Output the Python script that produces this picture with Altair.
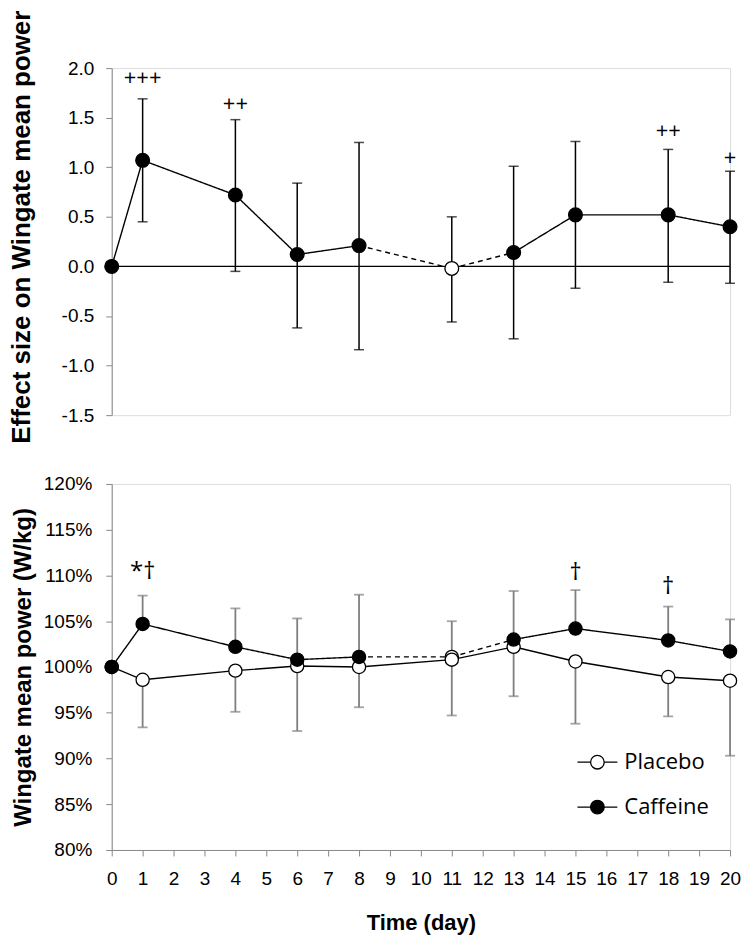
import altair as alt
import pandas as pd

# ---------------- data ----------------
days = [0, 1, 4, 6, 8, 11, 13, 15, 18, 20]
seg_style = ["solid", "solid", "solid", "solid", "dashed", "dashed", "solid", "solid", "solid"]

# top panel: effect size (caffeine vs placebo)
es_mean = [0.00, 1.07, 0.72, 0.12, 0.21, -0.02, 0.14, 0.52, 0.52, 0.40]
es_low = [None, 0.45, -0.05, -0.62, -0.84, -0.56, -0.73, -0.22, -0.16, -0.17]
es_high = [None, 1.69, 1.48, 0.84, 1.25, 0.50, 1.01, 1.26, 1.18, 0.96]
es_open = [False, False, False, False, False, True, False, False, False, False]
es_mark_days = [1, 4, 18, 20]
es_mark_text = ["+++", "++", "++", "+"]
es_mark_y = [1.90, 1.64, 1.37, 1.09]

# bottom panel: relative Wingate mean power (%)
plac_mean = [100.0, 98.6, 99.6, 100.1, 100.0, 100.8, 102.2, 100.6, 98.9, 98.5]
plac_low = [None, 93.4, 95.1, 93.0, 95.6, 94.7, 96.8, 93.8, 94.6, 90.3]
caff_mean = [100.0, 104.7, 102.2, 100.8, 101.1, 101.1, 103.0, 104.2, 102.9, 101.7]
caff_high = [None, 107.8, 106.4, 105.3, 107.9, 105.0, 108.3, 108.4, 106.6, 105.2]
caff_open = [False, False, False, False, False, True, False, False, False, False]
pw_mark_days = [1, 15, 18]
pw_mark_text = ["*\u2020", "\u2020", "\u2020"]
pw_mark_y = [110.4, 110.3, 108.7]

FONT = "Open Sans"

# ---------------- tables ----------------
def segments(vals):
    rows = []
    for i in range(len(days) - 1):
        for j in (i, i + 1):
            rows.append({"day": days[j], "v": vals[j], "seg": i, "style": seg_style[i]})
    return pd.DataFrame(rows)

es_df = pd.DataFrame({"day": days, "v": es_mean, "lo": es_low, "hi": es_high, "open": es_open})
es_err = es_df.dropna()
es_ann = pd.DataFrame({"day": es_mark_days, "v": es_mark_y, "t": es_mark_text})
zero_df = pd.DataFrame({"a": [days[0]], "b": [days[-1]], "z": [0.0]})

pl_df = pd.DataFrame({"day": days, "v": plac_mean, "lo": plac_low, "series": "Placebo"})
cf_df = pd.DataFrame({"day": days, "v": caff_mean, "hi": caff_high, "series": "Caffeine",
                      "open": caff_open})
pw_ann = pd.DataFrame({"day": pw_mark_days, "v": pw_mark_y, "t": pw_mark_text})

W = 620
xs = alt.Scale(domain=[0, 20], nice=False, zero=False)
dash_scale = alt.Scale(domain=["solid", "dashed"], range=[[1, 0], [5, 4]])

# ---------------- top panel ----------------
ys_top = alt.Scale(domain=[-1.5, 2.0], nice=False, zero=False)
y_top_axis = alt.Axis(
    title="Effect size on Wingate mean power", values=[-1.5, -1.0, -0.5, 0.0, 0.5, 1.0, 1.5, 2.0],
    labelExpr="replace(format(datum.value, '.1f'), '\u2212', '-')",
    titleX=-77, titleY=159, titleFontSize=26, titleFontWeight="bold",
    labelFontSize=19, labelPadding=12, tickSize=6, grid=False,
)
xt = alt.X("day:Q", scale=xs, axis=None)

top_zero = alt.Chart(zero_df).mark_rule(color="black", strokeWidth=1.3).encode(
    x=alt.X("a:Q", scale=xs, axis=None), x2="b:Q",
    y=alt.Y("z:Q", scale=ys_top, axis=y_top_axis))
top_err = alt.Chart(es_err).mark_rule(color="black", strokeWidth=1.5).encode(
    x=xt, y=alt.Y("lo:Q", scale=ys_top), y2="hi:Q")
top_cap_hi = alt.Chart(es_err).mark_tick(orient="horizontal", size=10, thickness=1.5, color="black").encode(
    x=xt, y=alt.Y("hi:Q", scale=ys_top))
top_cap_lo = alt.Chart(es_err).mark_tick(orient="horizontal", size=10, thickness=1.5, color="black").encode(
    x=xt, y=alt.Y("lo:Q", scale=ys_top))
top_line = alt.Chart(segments(es_mean)).mark_line(color="black", strokeWidth=1.4).encode(
    x=xt, y=alt.Y("v:Q", scale=ys_top), detail="seg:N",
    strokeDash=alt.StrokeDash("style:N", scale=dash_scale, legend=None))
top_pts = alt.Chart(es_df).mark_point(shape="circle", size=190, filled=True, stroke="black",
                                      strokeWidth=1.3, opacity=1).encode(
    x=xt, y=alt.Y("v:Q", scale=ys_top),
    fill=alt.condition("datum.open", alt.value("white"), alt.value("black")))
top_txt = alt.Chart(es_ann).mark_text(fontSize=22, font=FONT, color="black").encode(
    x=xt, y=alt.Y("v:Q", scale=ys_top), text="t:N")

top = alt.layer(top_zero, top_err, top_cap_hi, top_cap_lo, top_line, top_pts, top_txt).properties(
    width=W, height=348)

# ---------------- bottom panel ----------------
ys_bot = alt.Scale(domain=[80, 120], nice=False, zero=False)
y_bot_axis = alt.Axis(
    title="Wingate mean power (W/kg)", values=[80, 85, 90, 95, 100, 105, 110, 115, 120],
    labelExpr="datum.value + '%'", titleX=-76, titleFontSize=24, titleFontWeight="bold",
    labelFontSize=19, labelPadding=14, tickSize=6, grid=False,
)
xb_axis = alt.Axis(title="Time (day)", values=list(range(0, 21)), format="d",
                   labelFontSize=19, labelPadding=14, tickSize=6, titleFontSize=22,
                   titleFontWeight="bold", titlePadding=24, labelFlush=False,
                   labelOverlap=False, grid=False)
xb = alt.X("day:Q", scale=xs, axis=xb_axis)

GRAY = "#7f7f7f"
pl_err = pl_df.dropna(subset=["lo"])
cf_err = cf_df.dropna(subset=["hi"])

b_pl_err = alt.Chart(pl_err).mark_rule(color=GRAY, strokeWidth=1.8).encode(
    x=xb, y=alt.Y("lo:Q", scale=ys_bot, axis=y_bot_axis), y2="v:Q")
b_pl_cap = alt.Chart(pl_err).mark_tick(orient="horizontal", size=10, thickness=1.8, color=GRAY).encode(
    x=xb, y=alt.Y("lo:Q", scale=ys_bot))
b_cf_err = alt.Chart(cf_err).mark_rule(color=GRAY, strokeWidth=1.8).encode(
    x=xb, y=alt.Y("v:Q", scale=ys_bot), y2="hi:Q")
b_cf_cap = alt.Chart(cf_err).mark_tick(orient="horizontal", size=10, thickness=1.8, color=GRAY).encode(
    x=xb, y=alt.Y("hi:Q", scale=ys_bot))
b_pl_line = alt.Chart(pl_df).mark_line(color="black", strokeWidth=1.4).encode(
    x=xb, y=alt.Y("v:Q", scale=ys_bot))
b_cf_line = alt.Chart(segments(caff_mean)).mark_line(color="black", strokeWidth=1.4).encode(
    x=xb, y=alt.Y("v:Q", scale=ys_bot), detail="seg:N",
    strokeDash=alt.StrokeDash("style:N", scale=dash_scale, legend=None))

legend_path = ("M-1,0L-0.34,0M0.34,0L1,0M-0.34,0A0.34,0.34,0,1,1,0.34,0"
               "A0.34,0.34,0,1,1,-0.34,0Z")
fill_enc = alt.Fill(
    "series:N",
    scale=alt.Scale(domain=["Placebo", "Caffeine"], range=["white", "black"]),
    legend=alt.Legend(title=None, orient="none", legendX=466, legendY=675,
                      symbolType=legend_path, symbolSize=1600, symbolStrokeColor="black",
                      symbolStrokeWidth=1.3, labelFontSize=22, labelFont=FONT,
                      labelOffset=6, rowPadding=13, padding=0),
)
pts_all = pd.concat([pl_df[["day", "v", "series"]],
                     cf_df[~cf_df["open"]][["day", "v", "series"]]])
b_pts = alt.Chart(pts_all).mark_point(shape="circle", size=175, filled=True, stroke="black",
                                      strokeWidth=1.3, opacity=1).encode(
    x=xb, y=alt.Y("v:Q", scale=ys_bot), fill=fill_enc,
    order=alt.Order("series:N", sort="descending"))
b_open = alt.Chart(cf_df[cf_df["open"]]).mark_point(shape="circle", size=175, filled=True,
                                                    fill="white", stroke="black",
                                                    strokeWidth=1.3, opacity=1).encode(
    x=xb, y=alt.Y("v:Q", scale=ys_bot))
b_txt = alt.Chart(pw_ann).mark_text(fontSize=24, font=FONT, color="black").encode(
    x=xb, y=alt.Y("v:Q", scale=ys_bot), text="t:N")

bottom = alt.layer(b_pl_err, b_pl_cap, b_cf_err, b_cf_cap, b_pl_line, b_open, b_cf_line,
                   b_pts, b_txt).properties(width=W, height=367)

chart = alt.vconcat(top, bottom, spacing=30).properties(
    padding={"left": 0, "top": 0, "right": 0, "bottom": 0}
).configure_view(stroke=None).configure_axis(
    grid=False, domainColor="black", tickColor="black", labelColor="black", titleColor="black",
    labelFont=FONT, titleFont=FONT, domainWidth=1.3, tickWidth=1.3
).configure(background="white")

chart.save("out.html", embed_options={"renderer": "svg", "actions": False})
